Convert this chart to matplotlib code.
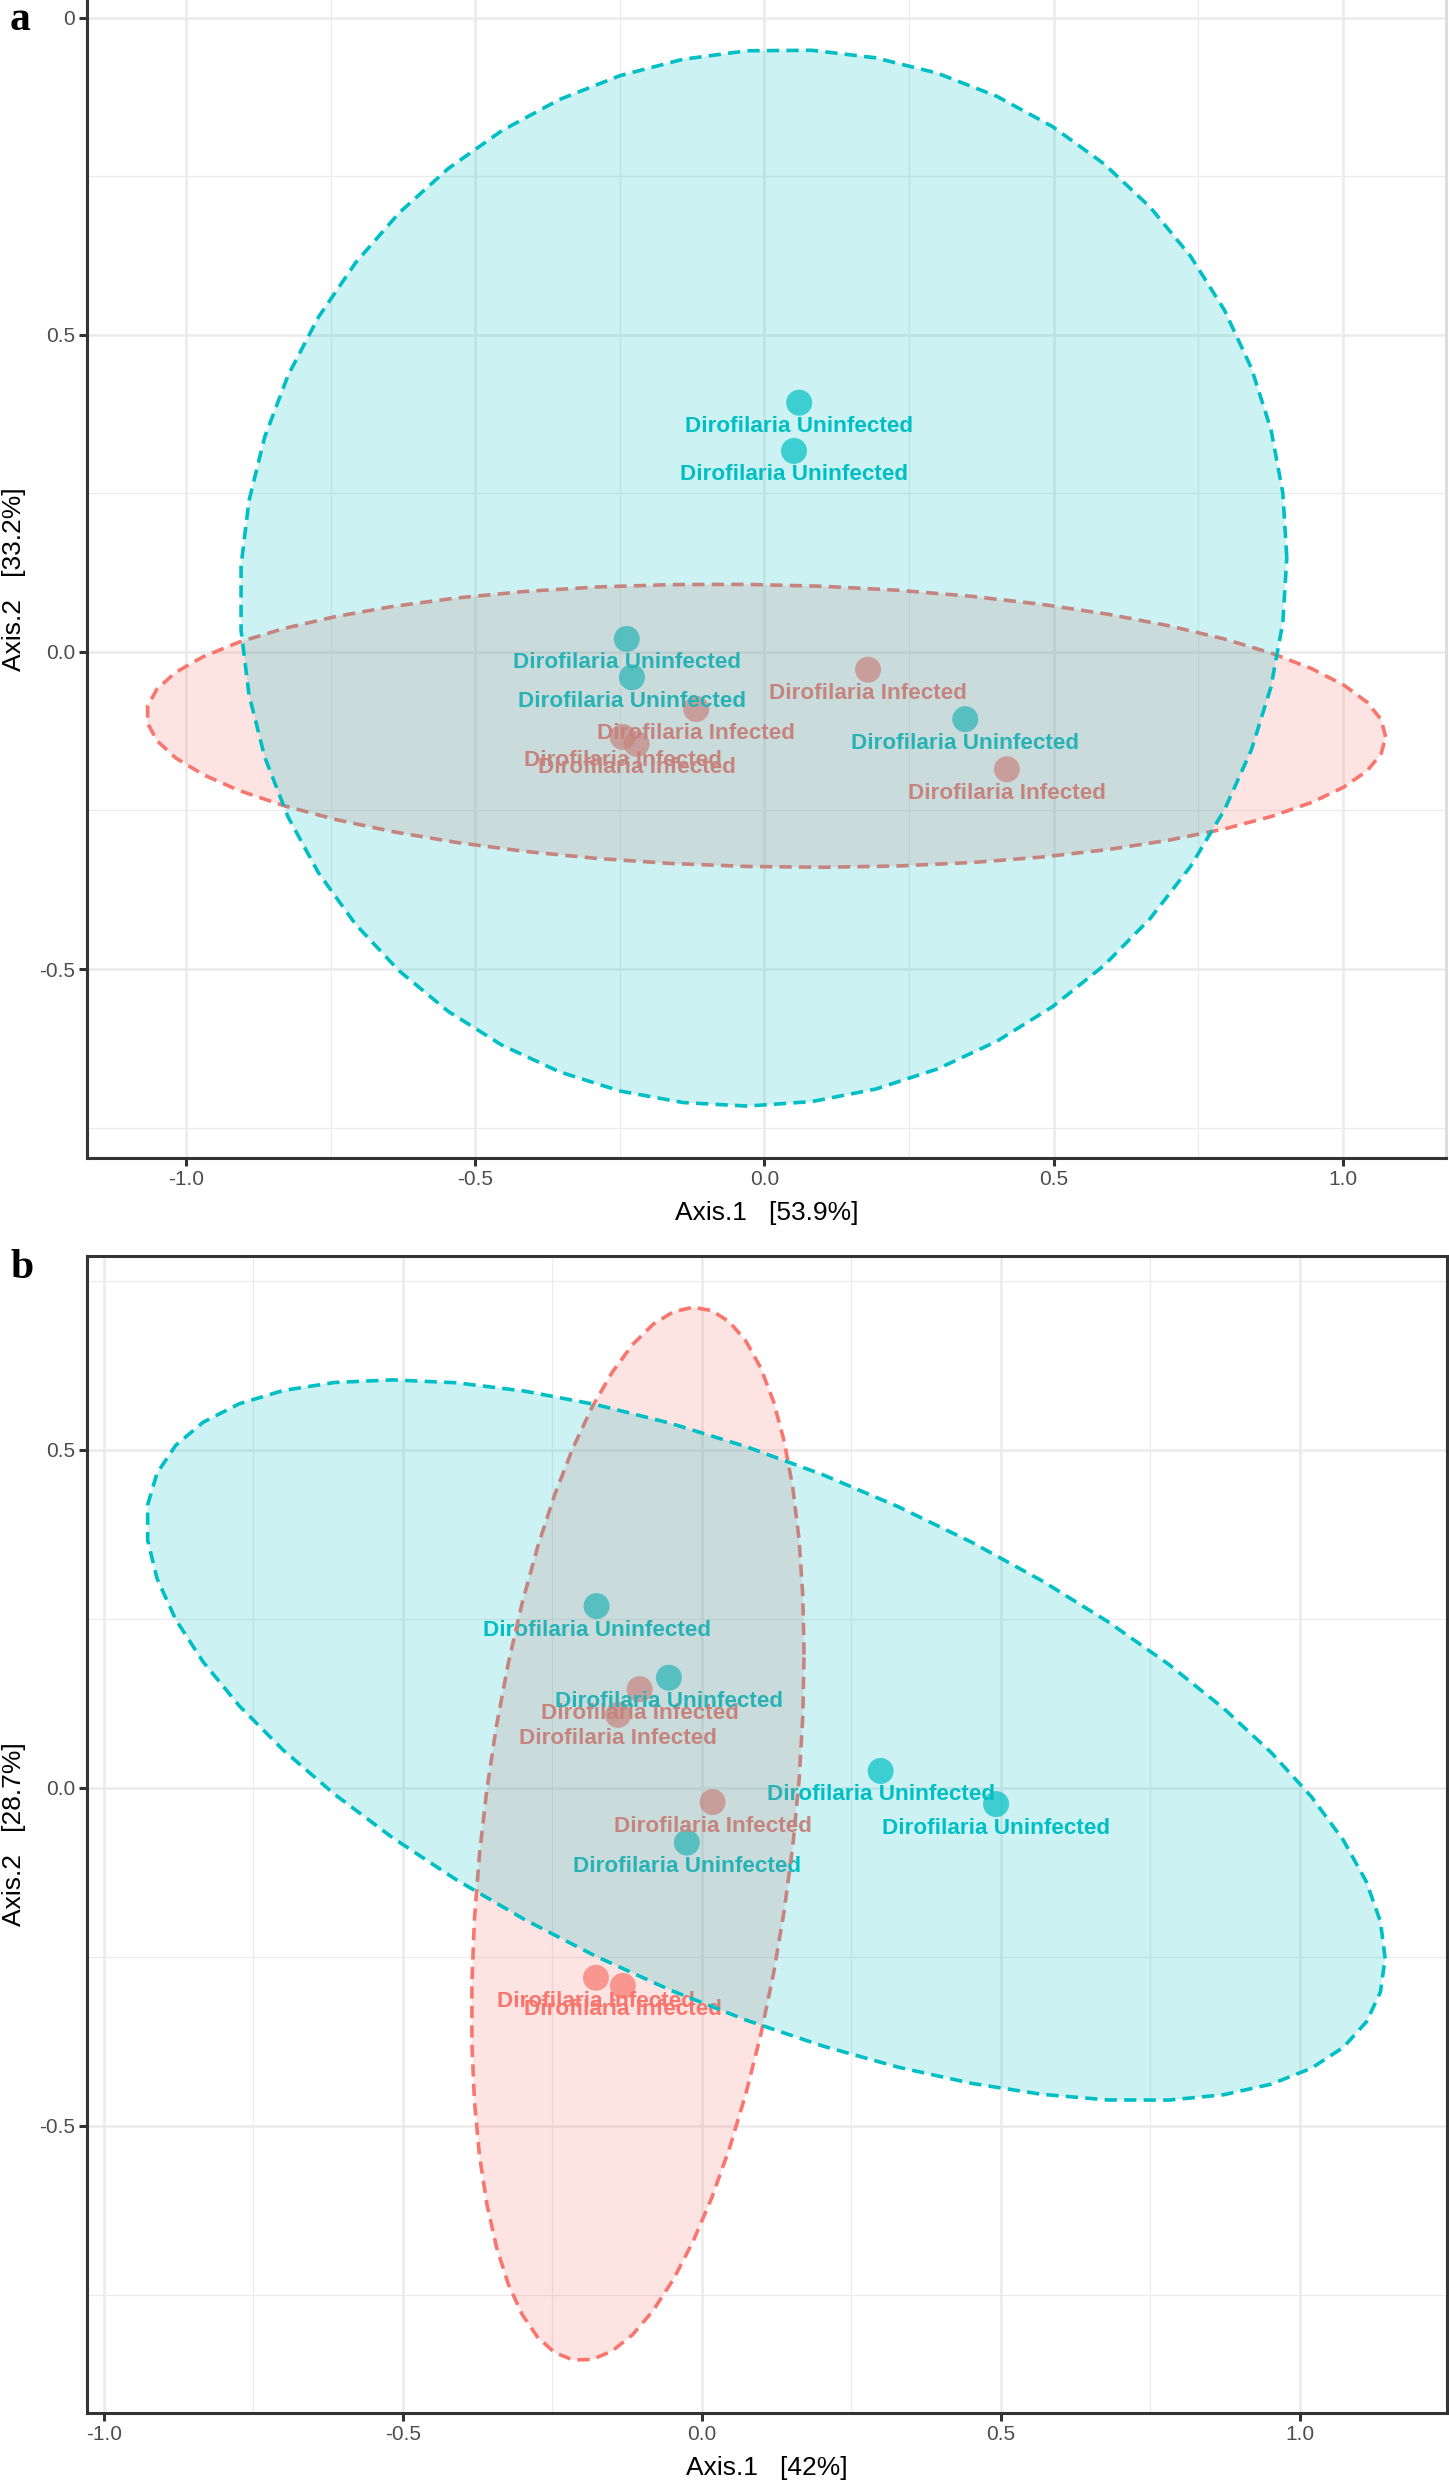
import numpy as np
import matplotlib
matplotlib.use('Agg')
import matplotlib.pyplot as plt
from matplotlib.patches import Polygon
from matplotlib.ticker import MultipleLocator

plt.rcParams['font.family'] = ['Liberation Sans', 'DejaVu Sans']

groups = ['Dirofilaria Infected', 'Dirofilaria Uninfected']
group_colors = ['#F8766D', '#00BFC4']

# panel a ordination scores
a_inf_x = [0.179, -0.118, -0.245, -0.221, 0.419]
a_inf_y = [-0.028, -0.090, -0.134, -0.145, -0.185]
a_uninf_x = [0.060, 0.051, -0.238, -0.229, 0.347]
a_uninf_y = [0.393, 0.317, 0.0205, -0.040, -0.106]
a_xlabel = 'Axis.1   [53.9%]'
a_ylabel = 'Axis.2   [33.2%]'
a_yticks = [-0.5, 0.0, 0.5, 1.0]
a_yticklabels = ['-0.5', '0.0', '0.5', '0']

# panel b ordination scores
b_inf_x = [-0.104, -0.140, 0.018, -0.177, -0.132]
b_inf_y = [0.146, 0.108, -0.021, -0.281, -0.293]
b_uninf_x = [-0.176, -0.055, 0.299, 0.492, -0.025]
b_uninf_y = [0.269, 0.163, 0.025, -0.024, -0.081]
b_xlabel = 'Axis.1   [42%]'
b_ylabel = 'Axis.2   [28.7%]'
b_yticks = [-0.5, 0.0, 0.5]
b_yticklabels = ['-0.5', '0.0', '0.5']

xticks = [-1.0, -0.5, 0.0, 0.5, 1.0]


def ellipse_path(xs, ys, level=0.95, segments=51):
    # normal-theory confidence ellipse, like stat_ellipse(type = "norm")
    pts = np.column_stack([xs, ys])
    cov = np.cov(pts, rowvar=False)
    center = pts.mean(axis=0)
    dfd = len(xs) - 1
    fq = dfd / 2 * ((1 - level) ** (-2 / dfd) - 1)  # qf(level, 2, dfd)
    radius = np.sqrt(2 * fq)
    ang = np.arange(segments + 1) * 2 * np.pi / segments
    circ = np.column_stack([np.cos(ang), np.sin(ang)])
    L = np.linalg.cholesky(cov)
    return center + radius * (circ @ L.T)


fig = plt.figure(figsize=(14.49, 24.8), dpi=100)
W, H = 1449, 2480

panels = [
    dict(box=(87, 0, 1446, 1158), xlim=(-1.171, 1.178), ylim=(-0.798, 1.028),
         data=[(a_inf_x, a_inf_y), (a_uninf_x, a_uninf_y)],
         xlabel=a_xlabel, ylabel=a_ylabel, yticks=a_yticks, yticklabels=a_yticklabels,
         tag='a', tag_y=30),
    dict(box=(87, 1256, 1447, 2413), xlim=(-1.028, 1.246), ylim=(-0.925, 0.787),
         data=[(b_inf_x, b_inf_y), (b_uninf_x, b_uninf_y)],
         xlabel=b_xlabel, ylabel=b_ylabel, yticks=b_yticks, yticklabels=b_yticklabels,
         tag='b', tag_y=1278),
]

for pnl in panels:
    x0, y0, x1, y1 = pnl['box']
    ax = fig.add_axes([x0 / W, 1 - y1 / H, (x1 - x0) / W, (y1 - y0) / H])
    ax.set_xlim(pnl['xlim'])
    ax.set_ylim(pnl['ylim'])

    # points and labels first, ellipses on top (as in the original)
    for (xs, ys), name, col in zip(pnl['data'], groups, group_colors):
        ax.scatter(xs, ys, s=350, color=col, alpha=0.7, edgecolors='none', zorder=2)
        for px, py in zip(xs, ys):
            ax.annotate(name, (px, py), xytext=(0, -24), textcoords='offset pixels',
                        ha='center', va='center', fontsize=16.2, fontweight='bold',
                        color=col, zorder=3)
    for (xs, ys), col in zip(pnl['data'], group_colors):
        verts = ellipse_path(xs, ys)
        ax.add_patch(Polygon(verts, closed=True, facecolor=col, alpha=0.2,
                             edgecolor='none', zorder=4))
        ax.add_patch(Polygon(verts, closed=True, fill=False, edgecolor=col,
                             linewidth=2.6, linestyle=(0, (3.4, 2.0)), zorder=4))

    ax.set_xticks(xticks)
    ax.set_xticklabels(['-1.0', '-0.5', '0.0', '0.5', '1.0'])
    ax.set_yticks(pnl['yticks'])
    ax.set_yticklabels(pnl['yticklabels'])
    ax.xaxis.set_minor_locator(MultipleLocator(0.25))
    ax.yaxis.set_minor_locator(MultipleLocator(0.25))
    ax.grid(True, which='major', color='#EBEBEB', linewidth=1.8, zorder=0)
    ax.grid(True, which='minor', color='#EBEBEB', linewidth=0.9, zorder=0)
    ax.set_axisbelow(True)
    ax.tick_params(which='minor', length=0)
    ax.tick_params(which='major', length=5.5, width=2.2, color='#333333',
                   labelsize=15, labelcolor='#4D4D4D', pad=3)
    for sp in ax.spines.values():
        sp.set_color('#333333')
        sp.set_linewidth(2.2)

    ax.set_xlabel(pnl['xlabel'], fontsize=19)
    ax.set_ylabel(pnl['ylabel'], fontsize=19)
    ax.xaxis.set_label_coords(0.5, -55 / (y1 - y0))
    ax.xaxis.label.set_va('center')
    ax.yaxis.set_label_coords(-73 / (x1 - x0), 0.5)
    ax.yaxis.label.set_va('center')

    fig.text(10 / W, 1 - pnl['tag_y'] / H, pnl['tag'], fontsize=30, fontweight='bold',
             family=['Liberation Serif', 'DejaVu Serif'], ha='left', va='baseline')

panels_axes = fig.axes
panels_axes[0].spines['top'].set_visible(False)
panels_axes[0].spines['right'].set_color('#DDDDDD')

fig.savefig('out.png', dpi=100)
